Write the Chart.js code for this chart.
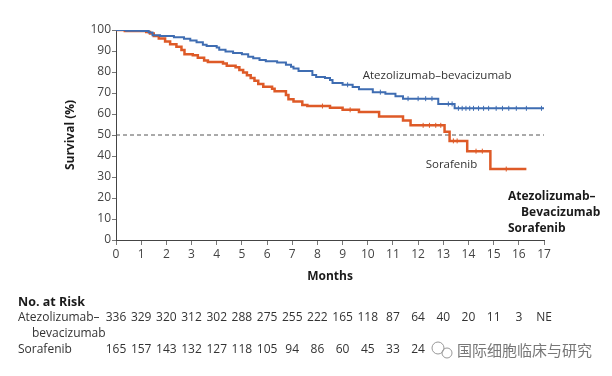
<!DOCTYPE html>
<html>
<head>
<meta charset="utf-8">
<script src="https://cdn.jsdelivr.net/npm/chart.js@4.4.1/dist/chart.umd.min.js"></script>
<style>
html,body{margin:0;padding:0;background:#fff;}
canvas{display:block;}
</style>
</head>
<body>
<canvas id="c" width="612" height="376"></canvas>
<script>
// ---- Data ----
const monthTicks = [0,1,2,3,4,5,6,7,8,9,10,11,12,13,14,15,16,17];

const atezoTimes  = [0,0.4,1.0,1.3,1.45,1.75,2.3,2.7,2.95,3.2,3.45,3.6,4.0,4.1,4.35,4.65,5.0,5.25,5.45,5.7,5.95,6.4,6.75,6.95,7.05,7.25,7.8,7.95,8.3,8.5,8.6,9.0,9.4,9.65,10.2,10.7,11.1,11.4,12.8,13.45,17];
const atezoSurv   = [100,99.7,99.5,98.8,97.5,97.1,96.6,95.8,95.0,94.2,93.0,92.4,91.7,90.6,89.8,89.0,88.4,87.3,86.5,85.7,85.1,84.5,83.5,82.5,81.7,80.5,78.6,77.6,77.2,76.2,74.8,73.9,72.8,71.8,70.4,69.6,68.4,67.3,64.8,62.7,62.7];

const soraTimes   = [0,0.35,1.2,1.35,1.5,1.7,1.95,2.15,2.4,2.6,2.72,3.05,3.25,3.5,3.65,4.25,4.4,4.75,4.9,5.05,5.2,5.35,5.5,5.65,5.85,6.2,6.3,6.75,6.85,7.05,7.4,7.6,8.5,9.0,9.65,10.45,11.4,11.7,13.05,13.25,13.95,14.87,16.3];
const soraSurv    = [100,99.5,99.0,98.3,97.2,96.0,94.5,93.2,92.0,90.5,88.5,88.0,86.8,85.5,84.8,84.0,83.0,82.3,81.0,79.8,78.5,77.2,75.8,74.3,73.0,72.0,70.8,69.0,67.0,66.0,64.3,63.8,63.0,62.0,60.9,58.8,56.9,54.6,51.6,47.2,42.3,33.8,33.8];

const atezoCensorT = [9.2,10.5,11.6,12.0,12.3,12.55,13.2,13.35,13.6,13.75,13.9,14.05,14.2,14.4,14.6,14.8,15.1,15.35,15.6,15.9,16.3,16.9];
const atezoCensorS = [73.9,70.4,67.3,67.3,67.3,67.3,64.8,64.8,62.7,62.7,62.7,62.7,62.7,62.7,62.7,62.7,62.7,62.7,62.7,62.7,62.7,62.7];
const soraCensorT  = [8.2,9.3,12.2,12.45,12.7,12.9,13.4,13.55,14.3,14.55,15.5];
const soraCensorS  = [63.8,62.0,54.6,54.6,54.6,54.6,47.2,47.2,42.3,42.3,33.8];

const riskAtezo = ["336","329","320","312","302","288","275","255","222","165","118","87","64","40","20","11","3","NE"];
const riskSora  = ["165","157","143","132","127","118","105","94","86","60","45","33","24"];

const refLine = [50, 50];
const refX = [0, 17];

// ---- Chart ----
const BLUE = '#3f6db2';
const ORANGE = '#de5a27';
const FONT = '"Open Sans", "Noto Sans", sans-serif';

const toPts = (xs, ys) => xs.map((x, i) => ({x: x, y: ys[i]}));

const overlay = {
  id: 'overlay',
  afterDraw(chart) {
    const ctx = chart.ctx;
    const xs = chart.scales.x, ys = chart.scales.y;
    ctx.save();
    // curve labels
    ctx.font = '11.5px ' + FONT;
    ctx.fillStyle = '#333';
    ctx.textBaseline = 'middle';
    ctx.textAlign = 'left';
    ctx.fillText('Atezolizumab\u2013bevacizumab', xs.getPixelForValue(9.8), ys.getPixelForValue(78));
    ctx.fillText('Sorafenib', xs.getPixelForValue(12.3), ys.getPixelForValue(36));
    // bold key at right
    ctx.font = 'bold 12px ' + FONT;
    ctx.fillStyle = '#1a1a1a';
    ctx.fillText('Atezolizumab\u2013', 508, 197);
    ctx.fillText('Bevacizumab', 521, 213);
    ctx.fillText('Sorafenib', 508, 229);
    // risk table
    ctx.font = 'bold 12.5px ' + FONT;
    ctx.fillText('No. at Risk', 18, 302);
    ctx.font = '12px ' + FONT;
    ctx.fillStyle = '#333';
    ctx.fillText('Atezolizumab\u2013', 18, 318);
    ctx.fillText('bevacizumab', 32, 334);
    ctx.fillText('Sorafenib', 18, 350);
    ctx.textAlign = 'center';
    riskAtezo.forEach((v, i) => ctx.fillText(v, xs.getPixelForValue(monthTicks[i]), 318));
    riskSora.forEach((v, i) => ctx.fillText(v, xs.getPixelForValue(monthTicks[i]), 350));
    // watermark
    ctx.textAlign = 'left';
    ctx.fillStyle = '#fff';
    ctx.fillRect(428, 338, 180, 24);
    ctx.strokeStyle = '#999';
    ctx.lineWidth = 1;
    ctx.beginPath(); ctx.arc(438, 348, 6, 0, Math.PI * 2); ctx.stroke();
    ctx.beginPath(); ctx.arc(447, 353, 5, 0, Math.PI * 2); ctx.stroke();
    ctx.font = '15px "Noto Sans CJK SC", sans-serif';
    ctx.fillStyle = '#777';
    ctx.fillText('国际细胞临床与研究', 457, 350);
    ctx.restore();
  }
};

new Chart(document.getElementById('c'), {
  type: 'line',
  data: {
    datasets: [
      { data: toPts(refX, refLine), borderColor: '#555', borderWidth: 1, borderDash: [4, 3], pointRadius: 0, order: 5 },
      { data: toPts(soraTimes, soraSurv), borderColor: ORANGE, borderWidth: 2.5, stepped: 'before', pointRadius: 0, order: 2 },
      { data: toPts(atezoTimes, atezoSurv), borderColor: BLUE, borderWidth: 2, stepped: 'before', pointRadius: 0, order: 1 },
      { data: toPts(soraCensorT, soraCensorS), showLine: false, pointStyle: 'line', rotation: 90, pointRadius: 2.5, borderColor: ORANGE, borderWidth: 1, order: 2 },
      { data: toPts(atezoCensorT, atezoCensorS), showLine: false, pointStyle: 'line', rotation: 90, pointRadius: 2.5, borderColor: BLUE, borderWidth: 1, order: 1 }
    ]
  },
  options: {
    responsive: false,
    animation: false,
    events: [],
    layout: { padding: { left: 59, top: 30, right: 68, bottom: 88 } },
    plugins: { legend: { display: false }, tooltip: { enabled: false } },
    scales: {
      x: {
        type: 'linear', min: 0, max: 17,
        afterFit: s => { s.height = 48; },
        afterBuildTicks: s => { s.ticks = monthTicks.map(v => ({ value: v })); },
        ticks: { color: '#444', font: { family: FONT, size: 12 }, padding: 2, maxRotation: 0, autoSkip: false },
        grid: { drawOnChartArea: false, drawTicks: true, tickLength: 5, color: '#666', tickColor: '#777' },
        border: { display: true, color: '#444', width: 1 },
        title: { display: true, text: 'Months', color: '#1a1a1a', font: { family: FONT, size: 12, weight: 'bold' }, padding: { top: 4, bottom: 4 } }
      },
      y: {
        min: 0, max: 100,
        afterFit: s => { s.width = 57; },
        ticks: { stepSize: 10, color: '#444', font: { family: FONT, size: 12 }, padding: 1 },
        grid: { drawOnChartArea: false, drawTicks: true, tickLength: 4, color: '#666', tickColor: '#777' },
        border: { display: true, color: '#444', width: 1 },
        title: { display: true, text: 'Survival (%)', color: '#1a1a1a', font: { family: FONT, size: 12, weight: 'bold' }, padding: { top: 4, bottom: 4 } }
      }
    }
  },
  plugins: [overlay]
});
</script>
</body>
</html>
